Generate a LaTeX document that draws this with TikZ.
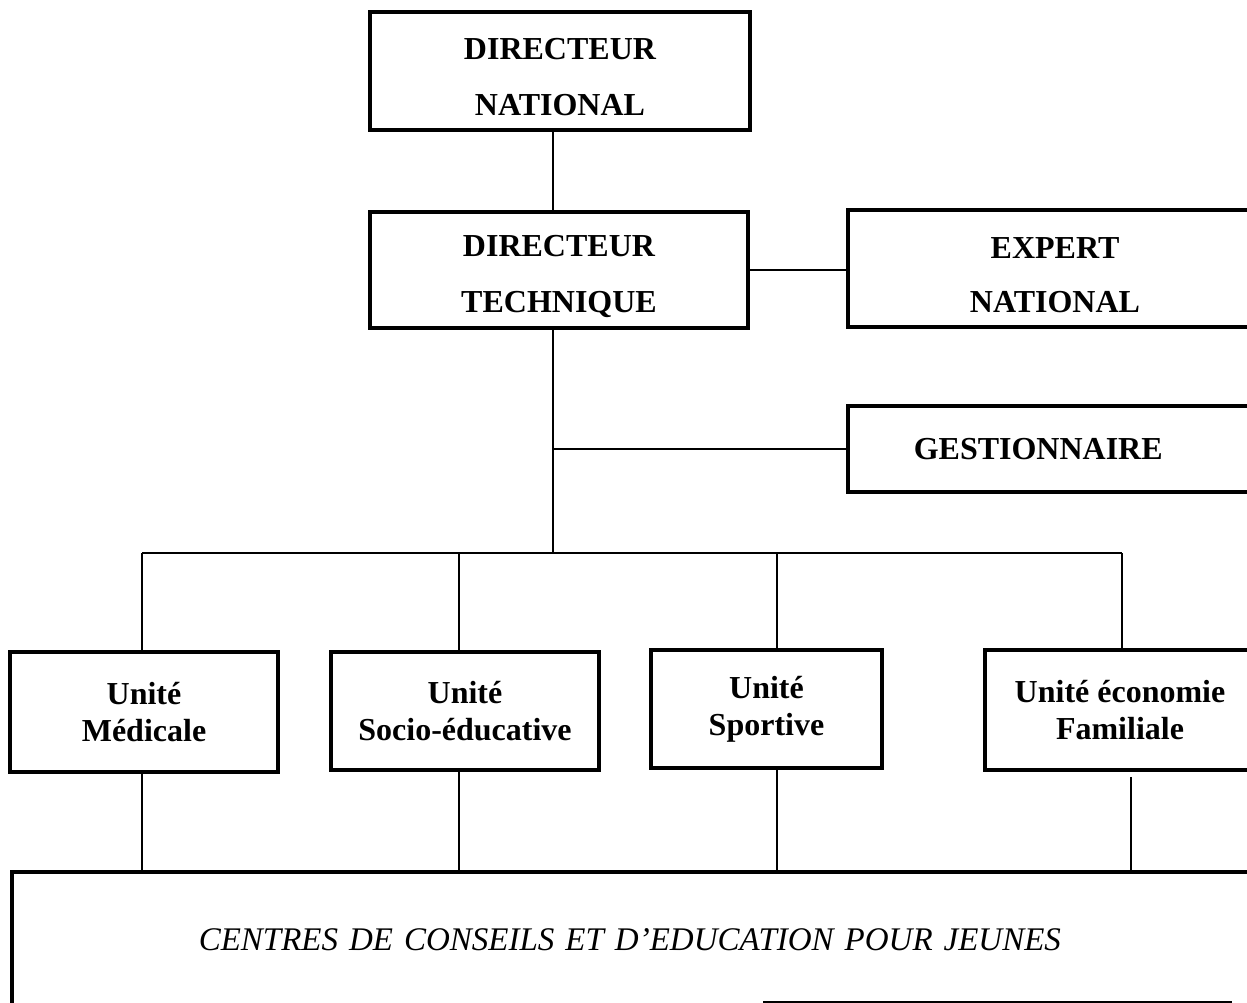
\documentclass[tikz,border=0pt]{standalone}
\usepackage{fontspec}
\setmainfont{Liberation Serif}
\newcommand{\downstrut}{\rule{0pt}{34pt}}
\begin{document}
\begin{tikzpicture}[x=1pt,y=-1pt,
  box/.style={draw, line width=3.5pt, align=center, inner sep=0pt,
    font=\bfseries\fontsize{32}{56}\selectfont},
  unitbox/.style={draw, line width=3.5pt, align=center, inner sep=0pt,
    font=\bfseries\fontsize{32}{37}\selectfont},
  link/.style={line width=2pt}]
\clip (0,0) rectangle (1247,1003);
\fill[white] (0,0) rectangle (1247,1003);

% top boxes
\node[box, minimum width=380pt, minimum height=118pt] (dn) at (560,71) {\downstrut DIRECTEUR\\NATIONAL};
\node[box, minimum width=378pt, minimum height=116pt] (dt) at (559,270) {\downstrut DIRECTEUR\\TECHNIQUE};
\node[box, minimum width=414pt, minimum height=117pt,
  font=\bfseries\fontsize{32}{54}\selectfont] (en) at (1055,268.5) {\downstrut EXPERT\\NATIONAL};
\node[box, anchor=west, minimum height=86pt, text width=300pt, align=left,
  inner xsep=66pt] (ge) at (846,449) {GESTIONNAIRE};

% units
\node[unitbox, minimum width=268pt, minimum height=120pt] (um) at (144,712) {Unité\\Médicale};
\node[unitbox, minimum width=268pt, minimum height=118pt] (us) at (465,711) {Unité\\Socio-éducative};
\node[unitbox, minimum width=231pt, minimum height=118pt] (usp) at (766.5,709) {Unité\\Sportive};
\node[unitbox, minimum width=270pt, minimum height=120pt] (ue) at (1120,710) {Unité économie\\Familiale};

% bottom box
\node[draw, line width=3.5pt, anchor=north west, inner sep=0pt, minimum height=136pt,
  text width=1100pt, align=left, inner xsep=187pt,
  font=\itshape\fontsize{33}{40}\selectfont] (cc) at (10,870)
  {CENTRES DE CONSEILS ET D’EDUCATION POUR JEUNES};
\draw[line width=2.5pt] (763,1002) -- (1232,1002);

% junctions
\coordinate (j) at (553,553);
\coordinate (b1) at (142,553);
\coordinate (b2) at (459,553);
\coordinate (b3) at (777,553);
\coordinate (b4) at (1122,553);
\coordinate (c4) at (1131,553);

% connectors
\draw[link] (j |- dn.south) -- (j |- dt.north);
\draw[link] (dt.east) -- (dt.east -| en.west);
\draw[link] (j |- dt.south) -- (j);
\draw[link] (j |- ge.west) -- (ge.west);
\draw[link] (b1) -- (b4);
\draw[link] (b1) -- (b1 |- um.north);
\draw[link] (b2) -- (b2 |- us.north);
\draw[link] (b3) -- (b3 |- usp.north);
\draw[link] (b4) -- (b4 |- ue.north);
\draw[link] (b1 |- um.south) -- (b1 |- cc.north);
\draw[link] (b2 |- us.south) -- (b2 |- cc.north);
\draw[link] (b3 |- usp.south) -- (b3 |- cc.north);
\draw[link] ([yshift=-5pt]c4 |- ue.south) -- (c4 |- cc.north);
\end{tikzpicture}
\end{document}
